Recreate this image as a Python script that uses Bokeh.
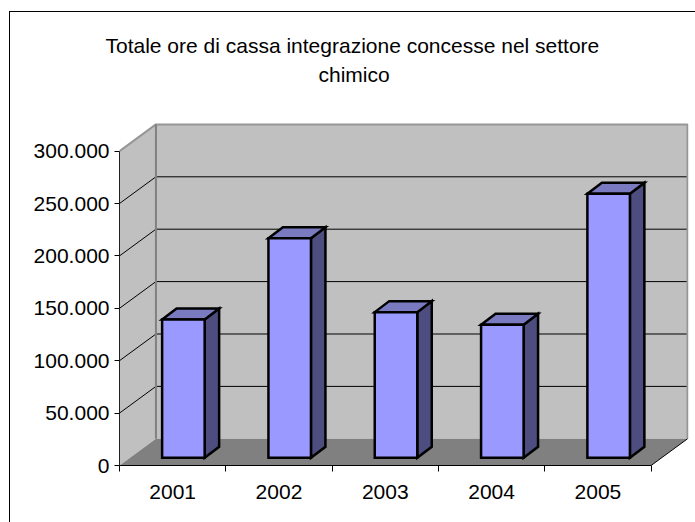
from bokeh.embed import file_html
from bokeh.resources import INLINE
from bokeh.plotting import figure
from bokeh.models import FixedTicker, Range1d, Title

title_lines = ["Totale ore di cassa integrazione concesse nel settore", "chimico"]
years = ["2001", "2002", "2003", "2004", "2005"]
values = [132000, 209500, 139000, 127000, 252000]
tick_values = [0, 50000, 100000, 150000, 200000, 250000, 300000]
tick_labels = ["0", "50.000", "100.000", "150.000", "200.000", "250.000", "300.000"]

FONT = "Liberation Sans"
X_UNIT = 106.5   # pixels per category
Y_UNIT = 52.4 / 50000  # pixels per value
DX, DY = 36.5 / X_UNIT, 26.7 / Y_UNIT          # depth of the 3D box
BAR_OX, BAR_OY = 10.75 / X_UNIT, 7.7 / Y_UNIT  # front face offset of the bars
BAR_W = 42.6 / X_UNIT
BAR_DX, BAR_DY = 14.5 / X_UNIT, 11 / Y_UNIT    # depth of the bars

cats = list(range(1, len(years) + 1))
X0, X1 = cats[0] - 0.5, cats[-1] + 0.5
YMAX = tick_values[-1]

p = figure(
    width=686, height=511, output_backend="svg", toolbar_location=None,
    x_range=Range1d(X0, X1 + 37.5 / X_UNIT),
    y_range=Range1d(0, 343 / Y_UNIT),
    min_border_left=109, min_border_right=8, min_border_top=110, min_border_bottom=58,
    margin=(11, 0, 0, 9),
    styles={"border-left": "1px solid black", "border-top": "1px solid black", "box-sizing": "border-box"},
)
p.grid.visible = False
p.outline_line_color = None
p.background_fill_color = None
p.border_fill_color = None

# walls and floor
p.patch([X0 + DX, X1 + DX, X1 + DX, X0 + DX], [DY, DY, YMAX + DY, YMAX + DY], fill_color="#C0C0C0", line_color=None)
p.patch([X0, X0 + DX, X0 + DX, X0], [0, DY, YMAX + DY, YMAX], fill_color="#C0C0C0", line_color=None)
p.patch([X0, X1, X1 + DX, X0 + DX], [0, 0, DY, DY], fill_color="#808080", line_color=None)

# gridlines
grid = tick_values[1:-1]
p.segment([X0] * len(grid), grid, [X0 + DX] * len(grid), [g + DY for g in grid], line_color="black", line_width=1)
p.segment([X0 + DX] * len(grid), [g + DY for g in grid], [X1 + DX] * len(grid), [g + DY for g in grid], line_color="black", line_width=1)

# wall edges
p.line([X0, X0 + DX, X1 + DX, X1 + DX], [YMAX, YMAX + DY, YMAX + DY, DY], line_color="#969696", line_width=2)
p.line([X0 + DX, X0 + DX], [DY, YMAX + DY], line_color="#808080", line_width=2)
p.line([X1, X1 + DX], [0, DY], line_color="black", line_width=1)

# bars
left = [c + BAR_OX - BAR_W / 2 for c in cats]
right = [c + BAR_OX + BAR_W / 2 for c in cats]
top = [BAR_OY + v for v in values]
p.patches(
    [[r, r + BAR_DX, r + BAR_DX, r] for r in right],
    [[BAR_OY, BAR_OY + BAR_DY, t + BAR_DY, t] for t in top],
    fill_color="#4D4D80", line_color="black", line_width=2.5, line_join="miter",
)
p.patches(
    [[l, r, r + BAR_DX, l + BAR_DX] for l, r in zip(left, right)],
    [[t, t, t + BAR_DY, t + BAR_DY] for t in top],
    fill_color="#7A7AC0", line_color="black", line_width=2.5, line_join="miter",
)
p.quad(left=left, right=right, bottom=BAR_OY, top=top, fill_color="#9999FF", line_color="black", line_width=2.5, line_join="miter")

# axes
ya = p.yaxis[0]
ya.ticker = FixedTicker(ticks=tick_values)
ya.major_label_overrides = dict(zip(tick_values, tick_labels))
ya.bounds = (0, YMAX)
ya.axis_line_color = "#202020"
ya.major_tick_line_color = "black"
ya.major_tick_in = 0
ya.major_tick_out = 5
ya.minor_tick_in = 0
ya.minor_tick_out = 0
ya.major_label_standoff = 5
ya.major_label_text_font = FONT
ya.major_label_text_font_size = "21px"
ya.major_label_text_color = "black"

xa = p.xaxis[0]
xa.ticker = FixedTicker(ticks=cats, minor_ticks=[c - 0.5 for c in cats] + [X1])
xa.major_label_overrides = dict(zip(cats, years))
xa.bounds = (X0, X1)
xa.axis_line_color = "black"
xa.major_tick_in = 0
xa.major_tick_out = 0
xa.minor_tick_in = 0
xa.minor_tick_out = 6
xa.minor_tick_line_color = "black"
xa.major_label_standoff = 13
xa.major_label_text_font = FONT
xa.major_label_text_font_size = "21px"
xa.major_label_text_color = "black"

# title: two lines, placed from the frame's left edge; bottom line added first
for line, off, shift in zip(reversed(title_lines), [73, -65], [199, -14]):
    t = Title(text=line, align="left", offset=shift, text_font=FONT, text_font_size="21px", text_font_style="normal",
              text_color="black", standoff=off)
    p.add_layout(t, "above")

open("out.html", "w").write(file_html(p, INLINE))
